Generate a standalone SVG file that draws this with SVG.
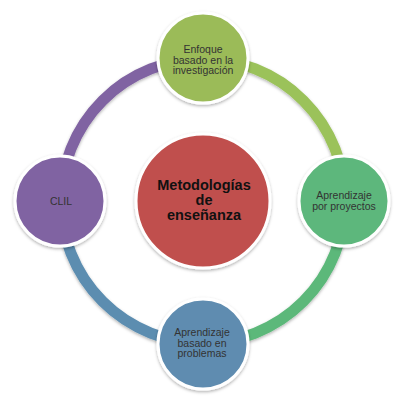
<svg xmlns="http://www.w3.org/2000/svg" width="408" height="418" viewBox="0 0 408 418">
<defs>
<filter id="sh" x="-20%" y="-20%" width="140%" height="140%">
<feDropShadow dx="0" dy="1.5" stdDeviation="1.5" flood-color="#000" flood-opacity="0.3"/>
</filter>
<style>
.arc{fill:none;stroke-width:11;filter:url(#sh)}
.node{stroke:#fff;stroke-width:3;filter:url(#sh)}
.lbl{font-family:"Liberation Sans",Arial,sans-serif;font-size:10.5px;fill:#333;text-anchor:middle}
.ctr{font-family:"Liberation Sans",Arial,sans-serif;font-size:14.5px;font-weight:bold;fill:#111;text-anchor:middle}
</style>
</defs>
<rect width="408" height="418" fill="#fff"/>
<g id="connectors">
<path class="arc" stroke="#9BC25A" d="M203,59 A142,142 0 0 1 345,201"/>
<path class="arc" stroke="#5CB87A" d="M345,201 A142,142 0 0 1 203,343"/>
<path class="arc" stroke="#5B8DB0" d="M203,343 A142,142 0 0 1 61,201"/>
<path class="arc" stroke="#8064A2" d="M61,201 A142,142 0 0 1 203,59"/>
</g>
<g id="center">
<circle class="node" cx="203" cy="201" r="67" fill="#C0504D"/>
<text class="ctr" x="204" y="190">Metodologías</text>
<text class="ctr" x="204" y="205">de</text>
<text class="ctr" x="204" y="220">enseñanza</text>
</g>
<g id="node-top">
<circle class="node" cx="203" cy="58" r="45" fill="#9BBB59"/>
<text class="lbl" x="203" y="53">Enfoque</text>
<text class="lbl" x="203" y="63.5">basado en la</text>
<text class="lbl" x="203" y="74">investigación</text>
</g>
<g id="node-right">
<circle class="node" cx="344" cy="201" r="45" fill="#5DB77B"/>
<text class="lbl" x="344" y="199">Aprendizaje</text>
<text class="lbl" x="344" y="210">por proyectos</text>
</g>
<g id="node-bottom">
<circle class="node" cx="203" cy="344" r="45" fill="#5E8CB0"/>
<text class="lbl" x="202" y="336">Aprendizaje</text>
<text class="lbl" x="202" y="346.5">basado en</text>
<text class="lbl" x="202" y="357">problemas</text>
</g>
<g id="node-left">
<circle class="node" cx="60" cy="201" r="45" fill="#8064A2"/>
<text class="lbl" x="61" y="205" fill="#2a2040">CLIL</text>
</g>
</svg>
